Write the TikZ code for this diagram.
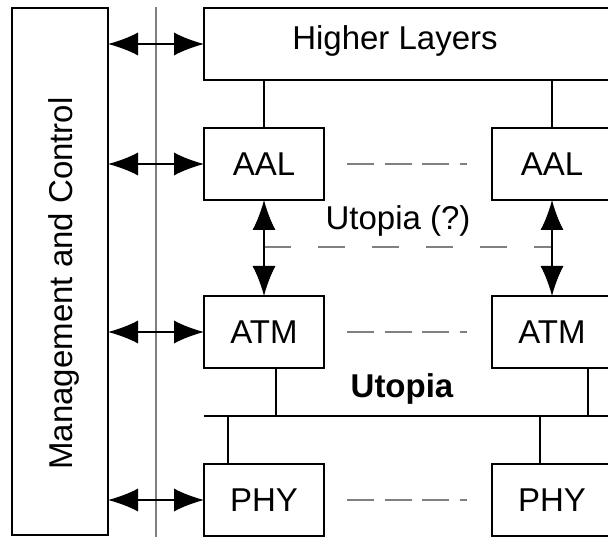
\documentclass[tikz,border=0pt]{standalone}
\usepackage{fontspec}
\setmainfont{Liberation Sans}
\usepackage{tikz}
\usetikzlibrary{arrows.meta,positioning}

\definecolor{dashgray}{RGB}{128,128,128}

\begin{document}
\begin{tikzpicture}[
  x=1pt, y=-1pt,
  node distance=96pt and 168pt,
  every node/.style={font=\fontsize{33}{39}\selectfont},
  layer/.style={draw, line width=1.4pt, outer sep=0pt, inner sep=0pt,
                minimum width=120pt, minimum height=72pt},
  link/.style={line width=1.4pt},
  arr/.style={{Latex[length=30pt,width=23pt]}-{Latex[length=30pt,width=23pt]}, line width=1.4pt},
  peer/.style={dashgray, line width=2pt, dash pattern=on 27pt off 10.5pt},
  guess/.style={dashgray, line width=2pt, dash pattern=on 27pt off 27pt}
]
\useasboundingbox (0,0) rectangle (608,537);
\clip (0,0) rectangle (608,537);

\coordinate (sepTop) at (156,7);
\coordinate (sepBot) at (156,540);
\draw[dashgray, line width=2pt] (sepTop) -- (sepBot);

\node[layer, minimum width=96pt, minimum height=527pt] (mgmt) at (60,271.5) {};
\node[rotate=90, anchor=base] (mgmttext) at (72,283.5) {Management and Control};

\node[layer, minimum width=408pt, anchor=west] (higher) at (204,44) {};
\node[anchor=base] (highertext) at (395,50) {Higher Layers};

\node[layer] (aalL) at (264,164) {AAL};
\node[layer, below=of aalL] (atmL) {ATM};
\node[layer, below=of atmL] (phyL) {PHY};
\node[layer, right=of aalL] (aalR) {AAL};
\node[layer, right=of atmL] (atmR) {ATM};
\node[layer, right=of phyL] (phyR) {PHY};

\coordinate (bus) at (204,416);
\coordinate (busEnd) at (612,416);
\coordinate (hint) at (264,247);

\draw[link] (higher.south -| aalL) -- (aalL);
\draw[link] (higher.south -| aalR) -- (aalR);
\draw[link] (bus) -- (busEnd);
\draw[link] ([xshift=12pt]atmL.south) -- ([xshift=12pt]atmL.south |- bus);
\draw[link] ([xshift=36pt]atmR.south) -- ([xshift=36pt]atmR.south |- bus);
\draw[link] ([xshift=-36pt]phyL.north |- bus) -- ([xshift=-36pt]phyL.north);
\draw[link] ([xshift=-12pt]phyR.north |- bus) -- ([xshift=-12pt]phyR.north);

\draw[peer, shorten <=23pt, shorten >=25pt] (aalL.east) -- (aalR.west);
\draw[peer, shorten <=23pt, shorten >=25pt] (atmL.east) -- (atmR.west);
\draw[peer, shorten <=23pt, shorten >=25pt] (phyL.east) -- (phyR.west);
\draw[guess] (hint) -- (hint -| aalR);

\node[anchor=base] (hinttext) at (398,230) {Utopia (?)};
\node[anchor=base, font=\fontsize{33}{39}\selectfont\bfseries] (bustext) at (402,398) {Utopia};

\draw[arr] (mgmt.east |- higher) -- (higher.west);
\draw[arr] (mgmt.east |- aalL) -- (aalL.west);
\draw[arr] (mgmt.east |- atmL) -- (atmL.west);
\draw[arr] (mgmt.east |- phyL) -- (phyL.west);
\draw[arr] (aalL) -- (atmL);
\draw[arr] (aalR) -- (atmR);
\end{tikzpicture}
\end{document}
